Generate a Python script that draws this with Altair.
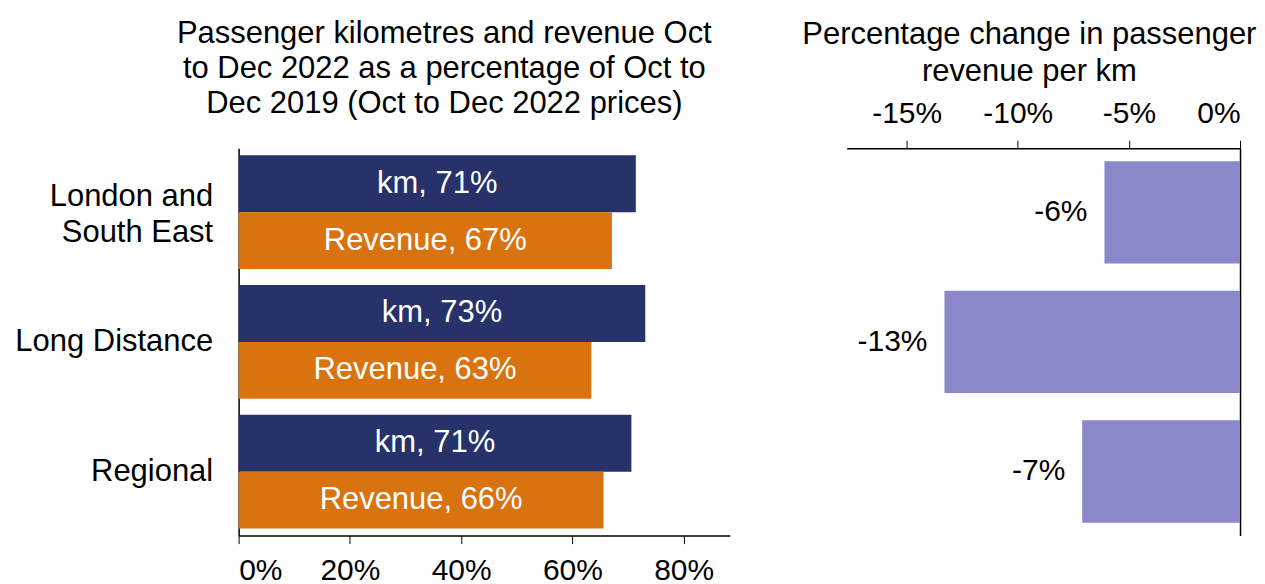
import altair as alt
import pandas as pd

FONT = "Liberation Sans"

regions = ["London and South East", "Long Distance", "Regional"]
series = ["km", "Revenue"]
km_pct = [0.714, 0.731, 0.706]
revenue_pct = [0.671, 0.634, 0.656]
change_pct = [-0.061, -0.133, -0.071]

navy = "#27316A"
orange = "#D9730F"
lavender = "#8A88C8"

rows = []
for r, k, v in zip(regions, km_pct, revenue_pct):
    rows.append({"region": r, "series": "km", "value": k,
                 "mid": k / 2, "label": f"km, {round(k * 100)}%"})
    rows.append({"region": r, "series": "Revenue", "value": v,
                 "mid": v / 2, "label": f"Revenue, {round(v * 100)}%"})
df_left = pd.DataFrame(rows)

df_right = pd.DataFrame({
    "region": regions,
    "value": change_pct,
    "label": [f"{round(c * 100)}%" for c in change_pct],
})

# ---------- left panel ----------
y_left = alt.Y(
    "region:N", sort=regions,
    scale=alt.Scale(paddingInner=0.123, paddingOuter=0.054),
    axis=alt.Axis(title=None, ticks=False, labelFontSize=31, labelColor="black",
                  labelFont=FONT, labelPadding=26, labelLineHeight=36,
                  domainColor="black", domainWidth=1.5, labelLimit=400,
                  labelOffset={"condition": {"test": "datum.value == 'London and South East'",
                                             "value": -15}, "value": 0},
                  labelExpr="datum.value == 'London and South East' ? ['London and', 'South East'] : datum.value"),
)
yoff_left = alt.YOffset("series:N", sort=series,
                        scale=alt.Scale(paddingInner=0, paddingOuter=0))

base_left = alt.Chart(df_left)
bars_left = base_left.mark_bar().encode(
    y=y_left,
    yOffset=yoff_left,
    x=alt.X("value:Q", scale=alt.Scale(domain=[0, 0.883], nice=False),
            axis=alt.Axis(title=None, values=[0, 0.2, 0.4, 0.6, 0.8], grid=False,
                          labelExpr="round(datum.value*100) + '%'",
                          labelFontSize=30, labelFont=FONT, labelColor="black",
                          tickColor="black", tickSize=8, labelPadding=12,
                          domainColor="black", domainWidth=1.5)),
    color=alt.Color("series:N", scale=alt.Scale(domain=series, range=[navy, orange]),
                    legend=None),
)
text_left = base_left.mark_text(color="white", fontSize=31, font=FONT,
                                baseline="middle").encode(
    y=y_left,
    yOffset=yoff_left,
    x=alt.X("mid:Q"),
    text="label:N",
)
left = alt.layer(bars_left, text_left).properties(
    width=492, height=388,
    title=alt.TitleParams(
        text=["Passenger kilometres and revenue Oct",
              "to Dec 2022 as a percentage of Oct to",
              "Dec 2019 (Oct to Dec 2022 prices)"],
        fontSize=31, fontWeight="normal", font=FONT, color="black",
        lineHeight=35, anchor="middle", frame="group", dx=-40, offset=28),
)

# ---------- right panel ----------
y_right = alt.Y(
    "region:N", sort=regions,
    scale=alt.Scale(paddingInner=0.21, paddingOuter=0.1),
    axis=alt.Axis(title=None, orient="right", labels=False, ticks=False,
                  domainColor="black", domainWidth=1.5),
)
x_right = alt.X(
    "value:Q", scale=alt.Scale(domain=[-0.177, 0], nice=False),
    axis=alt.Axis(title=None, orient="top", values=[-0.15, -0.1, -0.05, 0],
                  grid=False, labelExpr="round(datum.value*100) + '%'",
                  labelFontSize=30, labelFont=FONT, labelColor="black",
                  tickColor="black", tickSize=8, labelPadding=12,
                  domainColor="black", domainWidth=1.5),
)
base_right = alt.Chart(df_right)
bars_right = base_right.mark_bar(color=lavender).encode(y=y_right, x=x_right)
text_right = base_right.mark_text(align="right", dx=-17, fontSize=30, font=FONT,
                                  color="black", baseline="middle").encode(
    y=y_right, x=x_right, text="label:N")
right = alt.layer(bars_right, text_right).properties(
    width=394, height=388,
    title=alt.TitleParams(
        text=["Percentage change in passenger", "revenue per km"],
        fontSize=31, fontWeight="normal", font=FONT, color="black",
        lineHeight=37, anchor="middle", frame="group", dx=-14, offset=10),
)

chart = alt.hconcat(left, right, spacing=72).properties(
    padding={"left": 6, "top": 10, "right": 0, "bottom": 0}
).configure(font=FONT).configure_view(stroke="transparent", strokeWidth=0)

chart.save("out.html", embed_options={"renderer": "svg", "actions": False})
